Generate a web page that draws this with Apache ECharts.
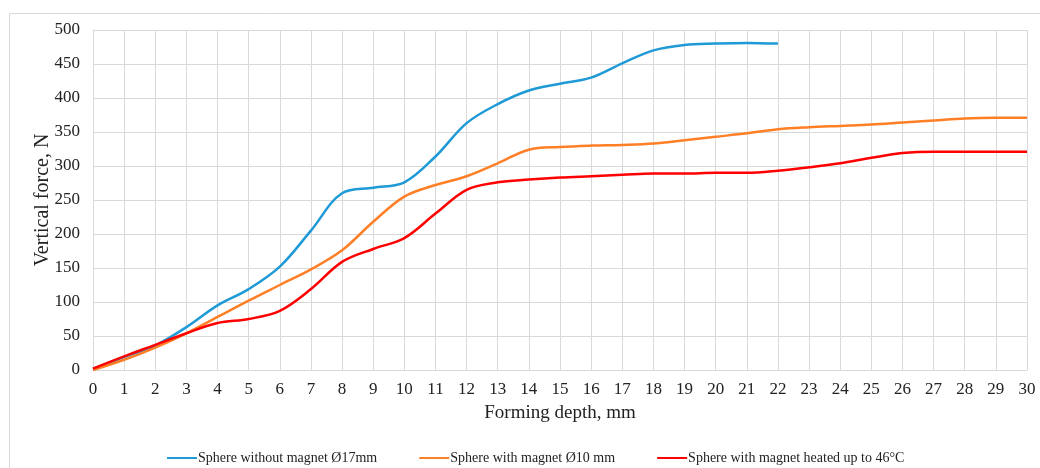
<!DOCTYPE html>
<html>
<head>
<meta charset="utf-8">
<script src="https://cdn.jsdelivr.net/npm/echarts@6/dist/echarts.min.js"></script>
<style>html,body{margin:0;padding:0;background:#fff;}#c{width:1040px;height:468px;}</style>
</head>
<body>
<div id="c"></div>
<script>
const depth = [0,1,2,3,4,5,6,7,8,9,10,11,12,13,14,15,16,17,18,19,20,21,22,23,24,25,26,27,28,29,30];
const seriesNames = ['Sphere without magnet Ø17mm','Sphere with magnet Ø10 mm','Sphere with magnet heated up to 46°C'];
const blue = [2,19,36,63,95,119,152,205,260,268,276,314,363,391,411,421,430,451,470,478,480,481,480];
const orange = [0,15,33,54,78,102,125,148,176,218,255,272,285,304,324,328,330,331,333,338,343,348,354,357,359,361,364,367,370,371,371];
const red = [2,20,37,54,69,75,87,119,159,178,194,230,265,276,280,283,285,287,289,289,290,290,293,298,304,312,319,321,321,321,321];
const yTicks = {min:0, max:500, step:50};
const xTicks = {min:0, max:30, step:1};

const colors = ['#1f9ad6','#ff7f27','#ff0000'];
const font = '"Liberation Serif", "Times New Roman", serif';
function pairs(arr){ return arr.map((v,i)=>[depth[i], v]); }
const chart = echarts.init(document.getElementById('c'), null, {renderer:'canvas'});
chart.setOption({
  animation:false,
  backgroundColor:'#fff',
  graphic:[{type:'rect', shape:{x:9.5,y:13.5,width:1100,height:600}, style:{fill:'none', stroke:'#d9d9d9', lineWidth:1}, z:-1}],
  grid:{left:93, right:13, top:30, bottom:98},
  legend:{
    top:446, left:162, itemWidth:30, itemHeight:2, itemGap:42, icon:'rect',
    textStyle:{fontFamily:font, fontSize:14, color:'#222', padding:[0,0,0,-4]},
    data:seriesNames
  },
  xAxis:{
    type:'value', min:xTicks.min, max:xTicks.max, interval:xTicks.step,
    name:'Forming depth, mm', nameLocation:'middle', nameGap:34, nameMoveOverlap:false,
    nameTextStyle:{fontFamily:font, fontSize:19, color:'#222'},
    axisLine:{lineStyle:{color:'#d9d9d9'}}, axisTick:{show:false},
    axisLabel:{fontFamily:font, fontSize:17, color:'#222', margin:11},
    splitLine:{show:true, lineStyle:{color:'#d9d9d9', width:1}}
  },
  yAxis:{
    type:'value', min:yTicks.min, max:yTicks.max, interval:yTicks.step,
    name:'Vertical force, N', nameLocation:'middle', nameGap:40, nameMoveOverlap:false,
    nameTextStyle:{fontFamily:font, fontSize:20, color:'#222'},
    axisLine:{show:true, lineStyle:{color:'#d9d9d9'}}, axisTick:{show:false},
    axisLabel:{fontFamily:font, fontSize:17, color:'#222', margin:13},
    splitLine:{show:true, lineStyle:{color:'#d9d9d9', width:1}}
  },
  series:[blue,orange,red].map((d,i)=>({
    name:seriesNames[i], type:'line', data:pairs(d), smooth:0.35, showSymbol:false,
    lineStyle:{color:colors[i], width:2.5}, itemStyle:{color:colors[i]}
  }))
});
</script>
</body>
</html>
